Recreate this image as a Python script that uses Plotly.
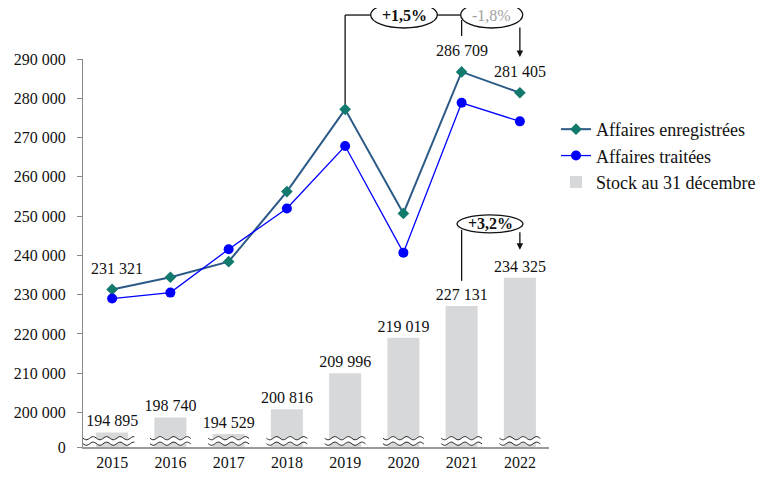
import numpy as np
import plotly.graph_objects as go

years = [2015, 2016, 2017, 2018, 2019, 2020, 2021, 2022]
enregistrees = [231321, 234430, 238400, 256250, 277180, 250670, 286709, 281405]
traitees = [229000, 230510, 241550, 251920, 267840, 240690, 278850, 274120]
stock = [194895, 198740, 194529, 200816, 209996, 219019, 227131, 234325]
stock_labels = ["194 895", "198 740", "194 529", "200 816", "209 996", "219 019", "227 131", "234 325"]
line_labels = {2015: "231 321", 2021: "286 709", 2022: "281 405"}
ytick_vals = [200000, 210000, 220000, 230000, 240000, 250000, 260000, 270000, 280000, 290000]
ytick_text = ["200 000", "210 000", "220 000", "230 000", "240 000", "250 000",
              "260 000", "270 000", "280 000", "290 000"]

FONT = "Liberation Serif"
OFF = 8  # page body margin
W_FIG, H_FIG = 771 - OFF, 484 - OFF
# plot area in page pixels
L, R, T, B = 83, 549, 59, 447.3
PW, PH = R - L, B - T
YMIN, YMAX = 191200, 290000
XMIN, XMAX = 2014.5, 2022.5


def xp(year):
    return (year - XMIN) / (XMAX - XMIN)


def yp(v):
    return (v - YMIN) / (YMAX - YMIN)


def px(xpix):
    return (xpix - L) / PW


def py(ypix):
    return (B - ypix) / PH


fig = go.Figure()

fig.add_trace(go.Bar(
    x=years, y=[s - YMIN for s in stock], base=YMIN, width=0.55,
    marker=dict(color="#d7d8da", line=dict(width=0)),
    text=stock_labels, textposition="outside", cliponaxis=False, constraintext="none",
    textfont=dict(family=FONT, size=16, color="#111"),
    name="Stock au 31 décembre", legendrank=3, hoverinfo="skip"))

fig.add_trace(go.Scatter(
    x=years, y=enregistrees, mode="lines+markers", name="Affaires enregistrées",
    line=dict(color="#2b5a86", width=2),
    marker=dict(symbol="diamond", size=9, color="#127a6c"),
    legendrank=1, cliponaxis=False))

fig.add_trace(go.Scatter(
    x=years, y=traitees, mode="lines+markers", name="Affaires traitées",
    line=dict(color="#0000ff", width=1.3),
    marker=dict(symbol="circle", size=10, color="#0000ff"),
    legendrank=2, cliponaxis=False))

shapes = []
annotations = []

# axis-break waves at the foot of each bar
for i, yr in enumerate(years):
    x0 = XMIN if i == 0 else yr - 0.35
    x1 = yr + 0.38 if i == 0 else yr + 0.35
    xs_pix = np.linspace(L + (x0 - XMIN) / (XMAX - XMIN) * PW, L + (x1 - XMIN) / (XMAX - XMIN) * PW, 40)
    up = 438.5 + 1.6 * np.sin(2 * np.pi * (xs_pix - xs_pix[0]) / 13.5)
    lo = 444.0 + 1.6 * np.sin(2 * np.pi * (xs_pix - xs_pix[0]) / 13.5)
    pts_up = [(px(a), py(b)) for a, b in zip(xs_pix, up)]
    pts_lo = [(px(a), py(b)) for a, b in zip(xs_pix, lo)]
    poly = pts_up + pts_lo[::-1]
    path = "M " + " L ".join(f"{a:.5f},{b:.5f}" for a, b in poly) + " Z"
    shapes.append(dict(type="path", xref="paper", yref="paper", path=path,
                       fillcolor="white", line=dict(width=0), layer="above"))
    for pts in (pts_up, pts_lo):
        p = "M " + " L ".join(f"{a:.5f},{b:.5f}" for a, b in pts)
        shapes.append(dict(type="path", xref="paper", yref="paper", path=p,
                           line=dict(color="#222", width=1), layer="above"))

line_style = dict(color="#111", width=1.3)
txt = dict(showarrow=False, xref="paper", yref="paper", xanchor="center", yanchor="middle")

# +1,5% (2019 -> 2022)
shapes.append(dict(type="line", xref="paper", yref="paper",
                   x0=xp(2019), x1=xp(2019), y0=yp(enregistrees[4]) + 5 / PH, y1=py(15), line=line_style))
shapes.append(dict(type="line", xref="paper", yref="paper",
                   x0=xp(2019), x1=px(370.7), y0=py(15), y1=py(15), line=line_style))
shapes.append(dict(type="circle", xref="paper", yref="paper",
                   x0=px(370.7), x1=px(437.3), y0=py(28), y1=py(2), line=line_style, fillcolor="white"))
shapes.append(dict(type="line", xref="paper", yref="paper",
                   x0=px(437.3), x1=px(460.7), y0=py(15), y1=py(15), line=line_style))
annotations.append(dict(x=px(404), y=py(15), text="<b>+1,5%</b>",
                        font=dict(family=FONT, size=16, color="#111"), **txt))

# -1,8% (2021 -> 2022)
shapes.append(dict(type="circle", xref="paper", yref="paper",
                   x0=px(460.7), x1=px(522.7), y0=py(28), y1=py(2), line=line_style, fillcolor="white"))
shapes.append(dict(type="line", xref="paper", yref="paper",
                   x0=xp(2021), x1=xp(2021), y0=py(36), y1=py(20), line=line_style))
annotations.append(dict(x=px(491.7), y=py(15), text="-1,8%",
                        font=dict(family=FONT, size=16, color="#a0a0a0"), **txt))
annotations.append(dict(x=2022, y=py(57), xref="x", yref="paper", text="", showarrow=True,
                        ax=0, ay=-31, arrowhead=2, arrowsize=1, arrowwidth=1.3, arrowcolor="#111"))

# +3,2% (stock 2021 -> 2022)
shapes.append(dict(type="circle", xref="paper", yref="paper",
                   x0=px(457), x1=px(523), y0=py(233), y1=py(215), line=line_style, fillcolor="white"))
shapes.append(dict(type="line", xref="paper", yref="paper",
                   x0=xp(2021), x1=xp(2021), y0=py(281), y1=py(230), line=line_style))
annotations.append(dict(x=px(490), y=py(224), text="<b>+3,2%</b>",
                        font=dict(family=FONT, size=16, color="#111"), **txt))
annotations.append(dict(x=2022, y=py(250), xref="x", yref="paper", text="", showarrow=True,
                        ax=0, ay=-19, arrowhead=2, arrowsize=1, arrowwidth=1.3, arrowcolor="#111"))

# value labels on the "enregistrées" line
for yr, lab in line_labels.items():
    v = enregistrees[years.index(yr)]
    annotations.append(dict(x=yr, y=v, xref="x", yref="y", text=lab, showarrow=False,
                            xanchor="center", yanchor="middle",
                            yshift=21, xshift=5 if yr == 2015 else 0,
                            font=dict(family=FONT, size=16, color="#111")))

fig.update_layout(
    width=W_FIG, height=H_FIG,
    margin=dict(l=L - OFF, r=W_FIG - (R - OFF), t=T - OFF, b=H_FIG - (B - OFF), autoexpand=False),
    paper_bgcolor="white", plot_bgcolor="white",
    font=dict(family=FONT, size=16, color="#111"),
    showlegend=True,
    legend=dict(x=px(556), y=py(111), xanchor="left", yanchor="top",
                xref="paper", yref="paper", bgcolor="rgba(0,0,0,0)",
                font=dict(family=FONT, size=18, color="#111"), tracegroupgap=0),
    shapes=shapes, annotations=annotations, bargap=0.45,
)
fig.update_xaxes(range=[XMIN, XMAX], tickvals=years, ticktext=[str(y) for y in years],
                 showline=True, linecolor="#9a9a9a", linewidth=2, ticks="",
                 showgrid=False, zeroline=False, tickfont=dict(family=FONT, size=16, color="#111"))
fig.update_yaxes(range=[YMIN, YMAX], tickvals=[YMIN] + ytick_vals, ticktext=["0"] + ytick_text,
                 showline=True, linecolor="#8a8a8a", linewidth=1.3, ticks="outside",
                 ticklen=5, tickcolor="#8a8a8a", tickwidth=1.3, ticklabelstandoff=8,
                 showgrid=False, zeroline=False, tickfont=dict(family=FONT, size=16, color="#111"))

fig.write_html("out.html")
